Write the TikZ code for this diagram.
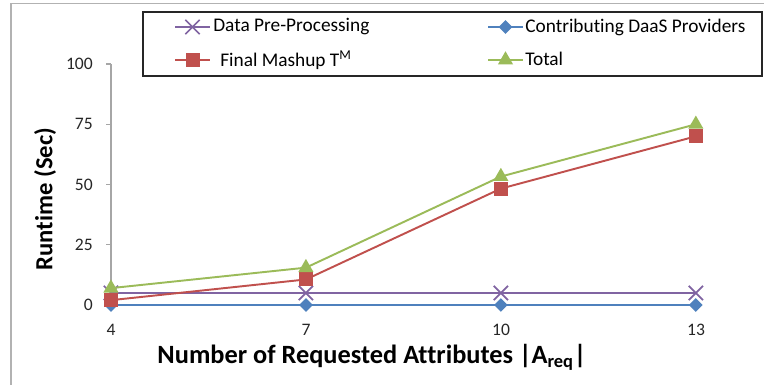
\documentclass[tikz,border=0pt]{standalone}
\usepackage{fontspec}
\setmainfont[Ligatures=NoCommon]{Carlito}
\usetikzlibrary{shapes.geometric,shapes.misc,calc}
\definecolor{precol}{HTML}{8064A2}
\definecolor{daascol}{HTML}{4F81BD}
\definecolor{mashcol}{HTML}{C0504D}
\definecolor{totcol}{HTML}{9BBB59}
\tikzset{
  series/.style={line width=1.1pt},
  markx/.style={cross out, draw=precol, line width=1pt, minimum size=0.25cm, inner sep=0pt},
  markd/.style={diamond, fill=daascol, minimum size=0.28cm, inner sep=0pt},
  marks/.style={rectangle, fill=mashcol, minimum size=0.28cm, inner sep=0pt},
  markt/.style={regular polygon, regular polygon sides=3, fill=totcol, minimum size=0.35cm, inner sep=0pt},
  ticklab/.style={font=\fontsize{10}{12}\selectfont, text=black!85},
  legtext/.style={font=\fontsize{11}{13}\selectfont, anchor=west, inner sep=0pt},
  axtitle/.style={font=\fontsize{14}{16}\selectfont\bfseries}
}
\begin{document}
\begin{tikzpicture}[x=0.02cm, y=-0.02cm]
  \useasboundingbox (0,0) rectangle (764,385);
  \draw[black!30, line width=1pt] (11,390) -- (11,3.5) -- (770,3.5);

  % y axis
  \draw[black!35, line width=0.8pt] (111,305) -- (111,64);
  \foreach \v/\yy in {0/305, 25/244.75, 50/184.5, 75/124.25, 100/64} {
    \draw[black!35, line width=0.8pt] (106,\yy) -- (111,\yy);
    \node[ticklab, anchor=east] (ylab\v) at (99,\yy) {\v};
  }
  \foreach \a/\xx in {4/111, 7/306, 10/501, 13/696}
    \node[ticklab] (xlab\a) at (\xx,330) {\a};

  \node[axtitle, rotate=90] (ytitle) at (45,199) {Runtime (Sec)};
  \node[axtitle, font=\fontsize{15}{17}\selectfont\bfseries] (xtitle) at (372,357)
    {Number of Requested Attributes |A\textsubscript{req}|};

  % data
  \begin{scope}[shift={(-149,305)}, x=1.3cm, y=0.0482cm]
    \foreach \a/\v [count=\i] in {4/5, 7/5, 10/5, 13/5}
      \coordinate (pre\i) at (\a,\v);
    \foreach \a/\v [count=\i] in {4/0, 7/0, 10/0, 13/0}
      \coordinate (daas\i) at (\a,\v);
    \foreach \a/\v [count=\i] in {4/2, 7/10.6, 10/48.3, 13/70}
      \coordinate (mash\i) at (\a,\v);
    \foreach \a/\v [count=\i] in {4/7, 7/15.5, 10/53.3, 13/75}
      \coordinate (tot\i) at (\a,\v);
  \end{scope}

  \draw[series, precol] (pre1) -- (pre2) -- (pre3) -- (pre4);
  \foreach \i in {1,...,4}
    \node[markx] (prem\i) at (pre\i) {};
  \draw[series, daascol] (daas1) -- (daas2) -- (daas3) -- (daas4);
  \foreach \i in {1,...,4}
    \node[markd] (daasm\i) at (daas\i) {};
  \draw[series, mashcol] (mash1) -- (mash2) -- (mash3) -- (mash4);
  \foreach \i in {1,...,4}
    \node[marks] (mashm\i) at (mash\i) {};
  \draw[series, totcol] (tot1) -- (tot2) -- (tot3) -- (tot4);
  \foreach \i in {1,...,4}
    \node[markt] (totm\i) at (tot\i) {};

  % legend
  \draw[black!85, line width=1.1pt] (143,12) rectangle (762,76);
  \coordinate (la1) at (175,27);   \coordinate (lb1) at (210,27);
  \coordinate (la2) at (488,27);   \coordinate (lb2) at (523,27);
  \coordinate (la3) at (175,60);   \coordinate (lb3) at (210,60);
  \coordinate (la4) at (488,60);   \coordinate (lb4) at (523,60);
  \draw[series, precol] (la1) -- (lb1);
  \node[markx] (legm1) at ($(la1)!0.5!(lb1)$) {};
  \draw[series, daascol] (la2) -- (lb2);
  \node[markd] (legm2) at ($(la2)!0.5!(lb2)$) {};
  \draw[series, mashcol] (la3) -- (lb3);
  \node[marks] (legm3) at ($(la3)!0.5!(lb3)$) {};
  \draw[series, totcol] (la4) -- (lb4);
  \node[markt] (legm4) at ($(la4)!0.5!(lb4)$) {};
  \node[legtext] (leg1) at (213,27) {Data Pre-Processing};
  \node[legtext] (leg2) at (525,27) {Contributing DaaS Providers};
  \node[legtext] (leg3) at (220,60) {Final Mashup T\textsuperscript{M}};
  \node[legtext] (leg4) at (525,59) {Total};
\end{tikzpicture}
\end{document}
